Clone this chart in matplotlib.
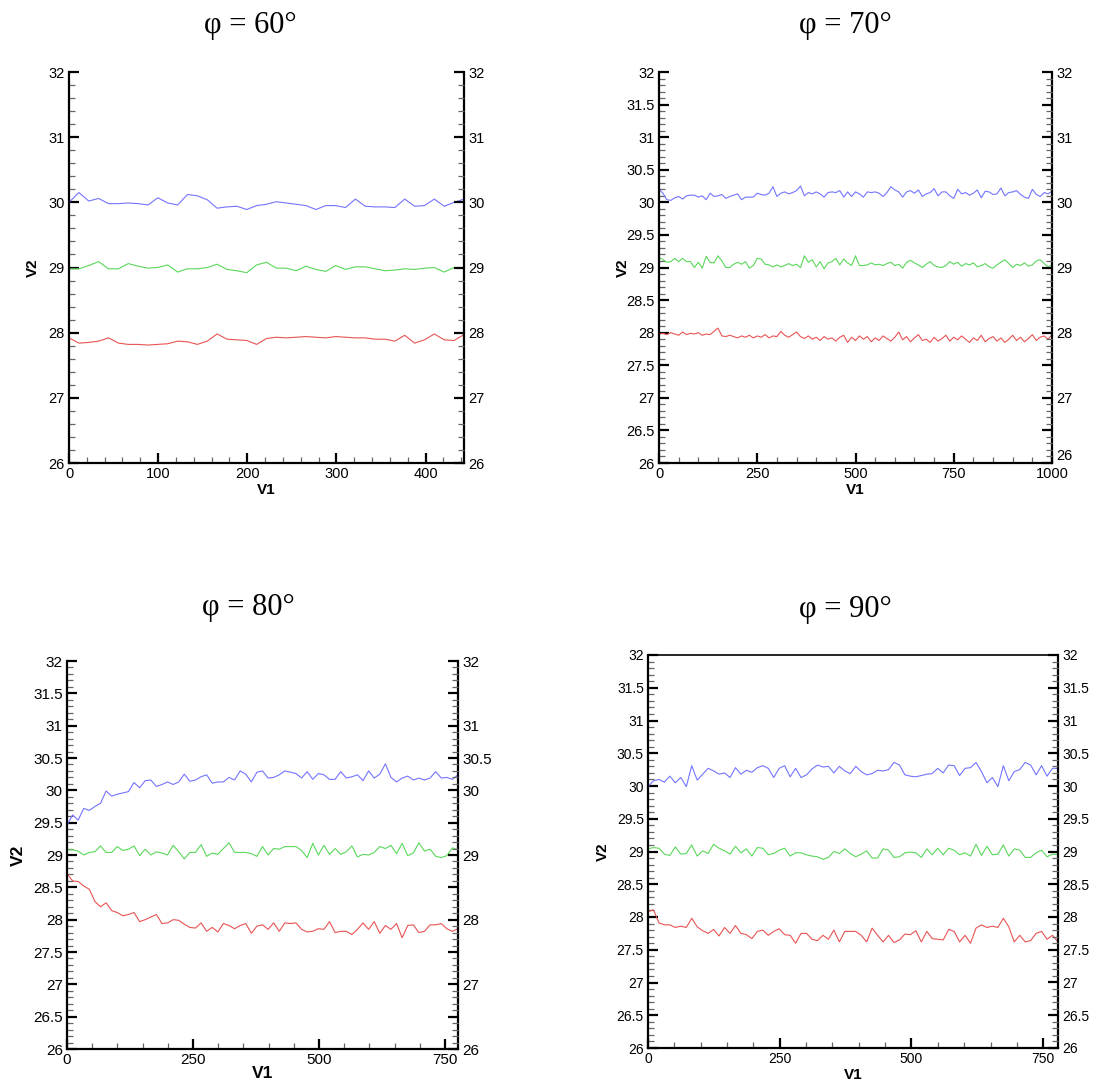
import numpy as np
import matplotlib
matplotlib.use("Agg")
import matplotlib.pyplot as plt
from matplotlib.ticker import MultipleLocator, FixedLocator, FixedFormatter

# phi = 60
p60_xmax = 443
p60_blue = [30.00, 30.15, 30.02, 30.06, 29.98, 29.98, 29.99, 29.98, 29.96, 30.07,
            29.99, 29.96, 30.12, 30.10, 30.04, 29.91, 29.93, 29.94, 29.89, 29.95,
            29.97, 30.01, 29.99, 29.97, 29.95, 29.89, 29.95, 29.95, 29.92, 30.05,
            29.94, 29.93, 29.93, 29.92, 30.05, 29.94, 29.95, 30.05, 29.94, 30.00, 30.05]
p60_green = [28.98, 28.98, 29.03, 29.09, 28.98, 28.98, 29.06, 29.02, 28.99, 29.00,
             29.04, 28.93, 28.98, 28.98, 29.00, 29.05, 28.97, 28.95, 28.92, 29.04,
             29.08, 28.99, 28.99, 28.95, 29.02, 28.97, 28.94, 29.03, 28.97, 29.01,
             29.01, 28.98, 28.95, 28.96, 28.98, 28.97, 28.99, 29.00, 28.93, 29.00, 29.00]
p60_red = [27.92, 27.84, 27.85, 27.87, 27.92, 27.84, 27.82, 27.82, 27.81, 27.82,
           27.83, 27.87, 27.86, 27.82, 27.87, 27.98, 27.90, 27.89, 27.88, 27.82,
           27.91, 27.93, 27.92, 27.93, 27.94, 27.93, 27.92, 27.94, 27.93, 27.92,
           27.92, 27.90, 27.90, 27.87, 27.96, 27.84, 27.89, 27.98, 27.89, 27.88, 27.97]

# phi = 70
p70_xmax = 1000
p70_blue = [30.20, 30.14, 30.04, 30.03, 30.07, 30.09, 30.05, 30.10, 30.11, 30.11,
            30.08, 30.10, 30.04, 30.14, 30.09, 30.10, 30.12, 30.06, 30.09, 30.11,
            30.13, 30.04, 30.08, 30.08, 30.08, 30.14, 30.12, 30.11, 30.14, 30.24,
            30.09, 30.14, 30.16, 30.13, 30.15, 30.18, 30.25, 30.10, 30.15, 30.13,
            30.16, 30.13, 30.08, 30.15, 30.16, 30.15, 30.18, 30.08, 30.16, 30.09,
            30.16, 30.13, 30.08, 30.16, 30.15, 30.16, 30.14, 30.09, 30.15, 30.24,
            30.19, 30.16, 30.08, 30.16, 30.18, 30.14, 30.19, 30.09, 30.13, 30.15,
            30.21, 30.10, 30.16, 30.16, 30.10, 30.06, 30.20, 30.13, 30.15, 30.11,
            30.14, 30.19, 30.07, 30.17, 30.16, 30.12, 30.13, 30.22, 30.10, 30.15,
            30.16, 30.18, 30.12, 30.08, 30.06, 30.20, 30.12, 30.09, 30.15, 30.13, 30.17]
p70_green = [29.16, 29.12, 29.08, 29.09, 29.14, 29.09, 29.14, 29.09, 29.09, 29.00,
             29.08, 28.99, 29.17, 29.08, 29.07, 29.18, 29.10, 29.00, 29.00, 29.05,
             29.08, 29.05, 29.09, 28.99, 29.03, 29.14, 29.13, 29.05, 29.04, 29.01,
             29.04, 29.01, 29.03, 29.06, 29.03, 29.05, 29.00, 29.18, 29.08, 29.12,
             29.01, 29.09, 28.98, 29.07, 29.09, 29.14, 29.04, 29.13, 29.07, 29.03,
             29.18, 29.03, 29.03, 29.04, 29.07, 29.04, 29.05, 29.03, 29.06, 29.08,
             29.03, 29.05, 28.99, 29.08, 29.11, 29.07, 29.04, 29.00, 29.05, 29.09,
             29.03, 29.01, 29.00, 29.03, 29.09, 29.05, 29.08, 29.02, 29.06, 29.04,
             29.07, 29.01, 29.03, 29.06, 29.01, 28.99, 29.04, 29.08, 29.12, 29.06,
             29.00, 29.05, 29.03, 29.07, 29.02, 29.04, 29.10, 29.12, 29.06, 29.01, 29.04]
p70_red = [27.98, 27.99, 27.97, 28.00, 27.98, 27.96, 28.01, 27.97, 27.99, 27.98,
           28.00, 27.96, 27.98, 27.97, 28.02, 28.07, 27.95, 27.94, 27.96, 27.94,
           27.92, 27.95, 27.93, 27.96, 27.92, 27.95, 27.93, 27.97, 27.92, 27.95,
           27.94, 28.02, 27.96, 27.93, 27.97, 28.01, 27.94, 27.91, 27.95, 27.90,
           27.93, 27.88, 27.94, 27.90, 27.92, 27.87, 27.93, 27.96, 27.85, 27.93,
           27.88, 27.95, 27.90, 27.94, 27.86, 27.92, 27.88, 27.95, 27.91, 27.87,
           27.93, 28.01, 27.89, 27.94, 27.86, 27.92, 27.97, 27.88, 27.90, 27.85,
           27.93, 27.87, 27.91, 27.96, 27.87, 27.93, 27.89, 27.95, 27.90, 27.85,
           27.92, 27.88, 27.96, 27.86, 27.91, 27.94, 27.87, 27.92, 27.85, 27.90,
           27.96, 27.88, 27.93, 27.86, 27.91, 27.97, 27.88, 27.93, 27.95, 27.90, 27.97]

# phi = 80
p80_xmax = 776
p80_blue = [29.46, 29.62, 29.54, 29.72, 29.69, 29.75, 29.80, 29.99, 29.91, 29.94,
            29.96, 29.98, 30.12, 30.04, 30.15, 30.16, 30.06, 30.09, 30.13, 30.09,
            30.13, 30.25, 30.14, 30.16, 30.21, 30.24, 30.11, 30.13, 30.13, 30.20,
            30.16, 30.30, 30.25, 30.13, 30.28, 30.30, 30.19, 30.20, 30.24, 30.30,
            30.28, 30.26, 30.19, 30.29, 30.17, 30.26, 30.24, 30.17, 30.17, 30.29,
            30.19, 30.21, 30.24, 30.15, 30.30, 30.19, 30.25, 30.41, 30.20, 30.13,
            30.19, 30.22, 30.16, 30.19, 30.16, 30.19, 30.29, 30.19, 30.20, 30.17, 30.24]
p80_green = [29.08, 29.08, 29.06, 29.00, 29.04, 29.05, 29.14, 29.04, 29.04, 29.13,
             29.07, 29.09, 29.14, 28.99, 29.09, 29.00, 29.05, 29.03, 29.00, 29.15,
             29.05, 28.94, 29.04, 29.04, 29.16, 28.98, 29.03, 29.01, 29.10, 29.19,
             29.04, 29.04, 29.04, 29.02, 28.98, 29.13, 29.00, 29.10, 29.09, 29.13,
             29.13, 29.13, 29.07, 28.96, 29.18, 29.00, 29.15, 29.01, 29.10, 29.01,
             29.05, 29.14, 28.97, 29.01, 29.00, 29.04, 29.13, 29.10, 29.15, 29.02,
             29.18, 28.99, 29.03, 29.19, 29.06, 29.09, 28.98, 28.96, 28.99, 29.11, 29.08]
p80_red = [28.71, 28.60, 28.59, 28.52, 28.47, 28.28, 28.20, 28.26, 28.14, 28.11,
           28.06, 28.08, 28.11, 27.97, 28.00, 28.04, 28.08, 27.94, 27.95, 28.00,
           27.99, 27.93, 27.88, 27.87, 27.95, 27.82, 27.88, 27.81, 27.94, 27.91,
           27.86, 27.91, 27.94, 27.79, 27.90, 27.92, 27.85, 27.95, 27.82, 27.95,
           27.94, 27.95, 27.85, 27.81, 27.82, 27.86, 27.85, 27.97, 27.80, 27.82,
           27.82, 27.77, 27.85, 27.95, 27.85, 27.97, 27.79, 27.91, 27.85, 27.94,
           27.72, 27.91, 27.92, 27.80, 27.82, 27.92, 27.92, 27.94, 27.86, 27.82, 27.86]

# phi = 90
p90_xmax = 778
p90_blue = [29.99, 30.08, 30.10, 30.06, 30.15, 30.05, 30.13, 29.99, 30.31, 30.09,
            30.18, 30.27, 30.23, 30.18, 30.20, 30.13, 30.28, 30.18, 30.24, 30.21,
            30.28, 30.31, 30.27, 30.13, 30.27, 30.31, 30.14, 30.27, 30.13, 30.17,
            30.26, 30.32, 30.29, 30.30, 30.20, 30.30, 30.23, 30.19, 30.30, 30.22,
            30.17, 30.19, 30.24, 30.23, 30.25, 30.36, 30.32, 30.17, 30.15, 30.14,
            30.16, 30.18, 30.19, 30.27, 30.20, 30.32, 30.31, 30.16, 30.27, 30.28,
            30.36, 30.22, 30.05, 30.13, 29.99, 30.31, 30.08, 30.22, 30.25, 30.36,
            30.32, 30.17, 30.31, 30.15, 30.27, 30.27]
p90_green = [29.04, 29.06, 29.05, 28.96, 28.94, 29.07, 28.96, 28.97, 29.10, 28.93,
             29.01, 28.97, 29.11, 29.05, 29.01, 28.96, 29.08, 28.98, 29.04, 28.93,
             29.06, 29.05, 28.95, 28.97, 29.02, 29.05, 28.93, 28.98, 28.98, 28.95,
             28.93, 28.92, 28.88, 28.91, 29.00, 28.97, 29.04, 28.97, 28.92, 28.96,
             29.01, 28.90, 28.90, 29.04, 29.02, 28.91, 28.92, 28.98, 28.99, 28.98,
             28.91, 29.04, 28.95, 29.05, 28.95, 29.05, 29.02, 28.95, 28.98, 28.93,
             29.11, 28.94, 29.08, 28.95, 28.96, 29.10, 28.93, 29.04, 29.02, 28.91,
             28.91, 28.98, 29.02, 28.92, 28.96, 28.95]
p90_red = [28.08, 28.11, 27.91, 27.88, 27.88, 27.84, 27.86, 27.84, 27.98, 27.85,
           27.79, 27.75, 27.81, 27.71, 27.84, 27.75, 27.87, 27.75, 27.73, 27.67,
           27.78, 27.80, 27.72, 27.78, 27.82, 27.73, 27.72, 27.60, 27.75, 27.75,
           27.66, 27.64, 27.72, 27.66, 27.80, 27.62, 27.78, 27.78, 27.78, 27.72,
           27.62, 27.83, 27.72, 27.62, 27.72, 27.61, 27.65, 27.74, 27.73, 27.79,
           27.62, 27.78, 27.67, 27.66, 27.65, 27.81, 27.78, 27.62, 27.72, 27.60,
           27.83, 27.88, 27.84, 27.86, 27.84, 27.98, 27.85, 27.62, 27.72, 27.62,
           27.64, 27.75, 27.78, 27.66, 27.72, 27.62]

titles = ["φ = 60°", "φ = 70°", "φ = 80°", "φ = 90°"]
blue = "#7474ff"
green = "#5ad85a"
red = "#e85454"

plt.rcParams["font.family"] = ["Liberation Sans", "DejaVu Sans"]

fig = plt.figure(figsize=(10.94, 10.84), dpi=100)

panels = [
    dict(rect=[69/1094, 1-463/1084, 395/1094, 391/1084], xmax=p60_xmax, xmaj=100, xmin=20,
         ymaj=1, ymin=0.2, data=(p60_blue, p60_green, p60_red), top=False,
         right=None, raise26=False, fs=10.5, lfs=11, ylc=-0.073, xlc=-0.05,
         title_xy=(250/1094, 1-26/1084)),
    dict(rect=[659/1094, 1-463/1084, 393/1094, 391/1084], xmax=p70_xmax, xmaj=250, xmin=50,
         ymaj=0.5, ymin=0.1, data=(p70_blue, p70_green, p70_red), top=False,
         right=['26', '', '27', '', '28', '', '29', '', '30', '', '31', '', '32'],
         raise26=True, fs=10.5, lfs=11, ylc=-0.074, xlc=-0.05,
         title_xy=(845/1094, 1-26/1084)),
    dict(rect=[67/1094, 1-1049/1084, 391/1094, 388/1084], xmax=p80_xmax, xmaj=250, xmin=50,
         ymaj=0.5, ymin=0.1, data=(p80_blue, p80_green, p80_red), top=False,
         right=['26', '', '27', '', '28', '', '29', '', '30', '30.5', '31', '', '32'],
         raise26=False, fs=11, lfs=12.5, ylc=-0.105, xlc=-0.045,
         title_xy=(248/1094, 1-608/1084)),
    dict(rect=[648/1094, 1-1048/1084, 410/1094, 393/1084], xmax=p90_xmax, xmaj=250, xmin=50,
         ymaj=0.5, ymin=0.1, data=(p90_blue, p90_green, p90_red), top=True,
         right=None, raise26=True, fs=10, lfs=11, ylc=-0.093, xlc=-0.05,
         title_xy=(845/1094, 1-610/1084)),
]

fmt = plt.FuncFormatter(lambda v, pos: f"{v:g}")

for p, title in zip(panels, titles):
    ax = fig.add_axes(p["rect"])
    for series, c in zip(p["data"], (blue, green, red)):
        x = np.linspace(0, p["xmax"], len(series))
        ax.plot(x, series, color=c, lw=0.8)
    ax.set_xlim(0, p["xmax"])
    ax.set_ylim(26, 32)
    ax.xaxis.set_major_locator(MultipleLocator(p["xmaj"]))
    ax.xaxis.set_minor_locator(MultipleLocator(p["xmin"]))
    ax.yaxis.set_major_locator(MultipleLocator(p["ymaj"]))
    ax.yaxis.set_minor_locator(MultipleLocator(p["ymin"]))
    ax.yaxis.set_major_formatter(fmt)
    for s in ax.spines.values():
        s.set_linewidth(1.6)
    ax.spines["top"].set_visible(p["top"])
    ax.spines["top"].set_linewidth(1.2)
    ax.tick_params(which="major", direction="in", length=7, width=1.6,
                   labelsize=p["fs"], pad=3, top=False, right=False)
    ax.tick_params(which="minor", direction="in", length=4, width=0.9,
                   color="#666666", top=False, right=False)

    # right-hand axis mirrors the left one
    ax2 = ax.twinx()
    ax2.set_ylim(26, 32)
    ax2.yaxis.set_major_locator(MultipleLocator(p["ymaj"]))
    ax2.yaxis.set_minor_locator(MultipleLocator(p["ymin"]))
    if p["right"] is not None:
        ax2.yaxis.set_major_locator(FixedLocator(np.arange(26, 32.01, 0.5)))
        ax2.yaxis.set_major_formatter(FixedFormatter(p["right"]))
    else:
        ax2.yaxis.set_major_formatter(fmt)
    for s in ax2.spines.values():
        s.set_visible(False)
    ax2.tick_params(which="major", direction="in", length=7, width=1.6,
                    labelsize=p["fs"], pad=3)
    ax2.tick_params(which="minor", direction="in", length=4, width=0.9, color="#666666")
    if p["raise26"]:
        fig.canvas.draw()
        ax2.get_yticklabels()[0].set_verticalalignment("bottom")

    ax.set_xlabel("V1", fontweight="bold", fontsize=p["lfs"])
    ax.set_ylabel("V2", fontweight="bold", fontsize=p["lfs"])
    ax.xaxis.set_label_coords(0.5, p["xlc"])
    ax.yaxis.set_label_coords(p["ylc"], 0.5)

    fig.text(p["title_xy"][0], p["title_xy"][1], title, ha="center", va="center",
             fontsize=22, family=["Liberation Serif", "DejaVu Serif"])

fig.savefig("out.png", dpi=100)
